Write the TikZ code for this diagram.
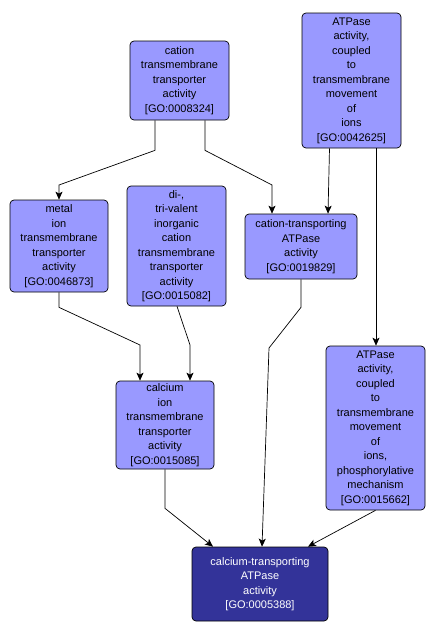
\documentclass[tikz,border=0pt]{standalone}
\usepackage{fontspec}
\setmainfont{Liberation Sans}
\usetikzlibrary{arrows.meta}
\definecolor{lightgo}{RGB}{153,153,255}
\definecolor{darkgo}{RGB}{51,51,153}
\tikzset{
  goterm/.style={draw=black, line width=0.7pt, fill=lightgo, rounded corners=4pt,
    align=center, inner sep=0pt, font=\fontsize{11}{14.5}\selectfont},
  goroot/.style={goterm, fill=darkgo, text=white},
  edge/.style={draw=black, line width=0.7pt, -{Stealth[length=8pt,width=7pt,inset=2pt]}}
}
\begin{document}
\begin{tikzpicture}[x=1pt,y=-1pt]
\path[use as bounding box, fill=white] (0,0) rectangle (436,637);

\node[goterm, minimum width=99pt, minimum height=79pt] (A) at (179.5,80.5)
  {cation\\transmembrane\\transporter\\activity\\{[GO:0008324]}};
\node[goterm, minimum width=99pt, minimum height=135pt] (B) at (351.5,80.5)
  {ATPase\\activity,\\coupled\\to\\transmembrane\\movement\\of\\ions\\{[GO:0042625]}};
\node[goterm, minimum width=98pt, minimum height=92pt] (C) at (59,246)
  {metal\\ion\\transmembrane\\transporter\\activity\\{[GO:0046873]}};
\node[goterm, minimum width=99pt, minimum height=120pt] (D) at (176.5,246)
  {di-,\\tri-valent\\inorganic\\cation\\transmembrane\\transporter\\activity\\{[GO:0015082]}};
\node[goterm, minimum width=112pt, minimum height=65pt] (E) at (301,246.5)
  {cation-transporting\\ATPase\\activity\\{[GO:0019829]}};
\node[goterm, minimum width=98pt, minimum height=88pt] (F) at (165,425)
  {calcium\\ion\\transmembrane\\transporter\\activity\\{[GO:0015085]}};
\node[goterm, minimum width=99pt, minimum height=164pt] (G) at (375.5,428)
  {ATPase\\activity,\\coupled\\to\\transmembrane\\movement\\of\\ions,\\phosphorylative\\mechanism\\{[GO:0015662]}};
\node[goroot, minimum width=136pt, minimum height=74pt] (H) at (260,584)
  {calcium-transporting\\ATPase\\activity\\{[GO:0005388]}};

\draw[edge] ([xshift=-24.5pt]A.south) -- ++(0,30) -- (59,185) -- (C.north);
\draw[edge] ([xshift=25.5pt]A.south) -- ++(0,30) -- (272,185) -- ([xshift=-29pt]E.north);
\draw[edge] ([xshift=-22pt]B.south) -- ([xshift=27pt]E.north);
\draw[edge] ([xshift=24.5pt]B.south) -- ([xshift=0.5pt]G.north);
\draw[edge] (C.south) -- ++(0,15) -- (140,345) -- ([xshift=-25pt]F.north);
\draw[edge] ([xshift=0.5pt]D.south) -- (190,345) -- ([xshift=25pt]F.north);
\draw[edge] (F.south) -- ++(0,39) -- ([xshift=-47pt]H.north);
\draw[edge] (E.south) -- ++(0,28) -- (269,348) -- ([xshift=2pt]H.north);
\draw[edge] (G.south) -- ([xshift=48pt]H.north);
\end{tikzpicture}
\end{document}
